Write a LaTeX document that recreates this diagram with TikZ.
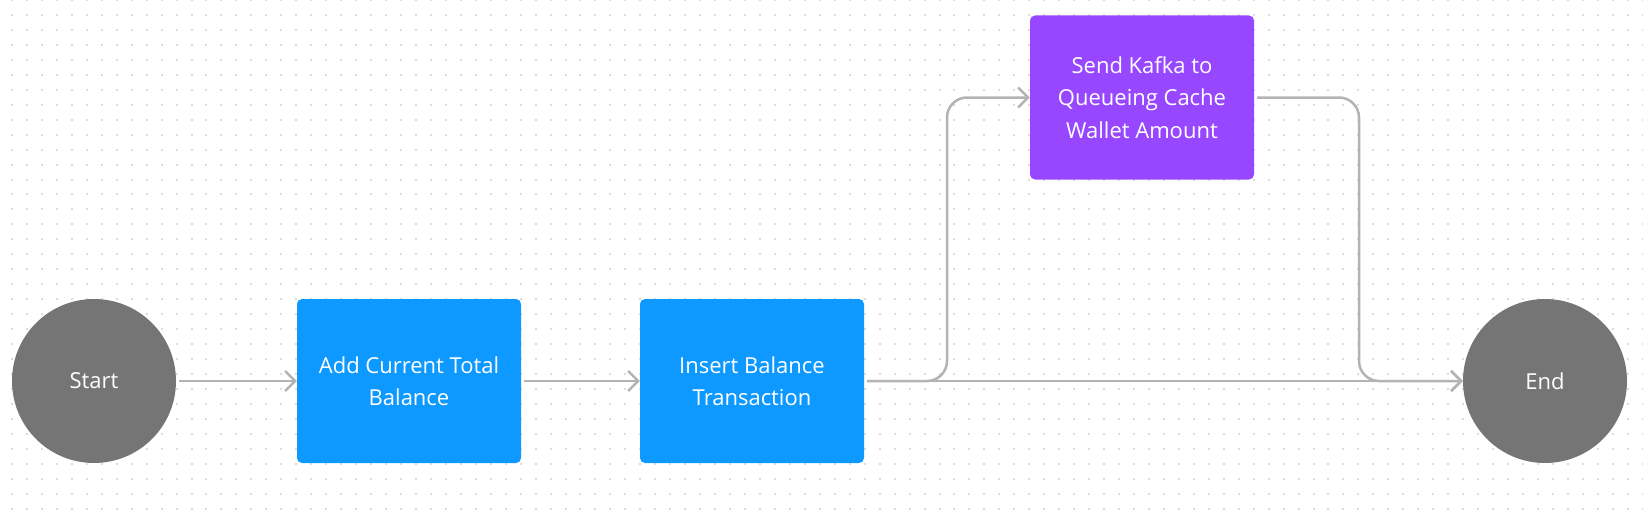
\documentclass[tikz,border=0pt]{standalone}
\usepackage{fontspec}
\setmainfont{Open Sans}
\usetikzlibrary{arrows.meta}
\definecolor{nodegray}{HTML}{757575}
\definecolor{stepblue}{HTML}{0D99FF}
\definecolor{steppurple}{HTML}{9747FF}
\definecolor{linegray}{HTML}{B3B3B3}
\definecolor{dotgray}{HTML}{DCDCDC}
\begin{document}
\begin{tikzpicture}[x=1pt,y=-1pt,>={Straight Barb[length=10pt,width=20pt]},
  txt/.style={text=white,font=\fontsize{22}{32.5}\selectfont,align=center},
  terminal/.style={txt,circle,fill=nodegray,minimum size=164pt,inner sep=0pt},
  stepbox/.style={txt,rectangle,rounded corners=5pt,minimum width=224pt,minimum height=164pt,inner sep=0pt},
  flow/.style={->,draw=linegray,line width=2.5pt,shorten <=3pt}]
\useasboundingbox (0,0) rectangle (1643,519);
% dotted canvas
\foreach \i in {0,...,109}
  \foreach \j in {0,...,34}
    \fill[dotgray] (11+\i*14.96,\j*14.96-1) rectangle ++(2,2);
\node[terminal] (start) at (94,381) {Start};
\node[stepbox,fill=stepblue] (total) at (409,381) {Add Current Total\\Balance};
\node[stepbox,fill=stepblue] (insert) at (752,381) {Insert Balance\\Transaction};
\node[stepbox,fill=steppurple] (kafka) at (1142,97.5) {Send Kafka to\\Queueing Cache\\Wallet Amount};
\node[terminal] (end) at (1545,381) {End};
\coordinate (fork) at (947,97.5);
\coordinate (join) at (1359,97.5);
\draw[flow] (start) -- (total);
\draw[flow] (total) -- (insert);
\draw[flow] (insert) -- (end);
\draw[flow,rounded corners=20pt] (insert.east) -| (fork) -- (kafka.west);
\draw[flow,rounded corners=20pt] (kafka.east) -- (join) |- (end.west);
\end{tikzpicture}
\end{document}
